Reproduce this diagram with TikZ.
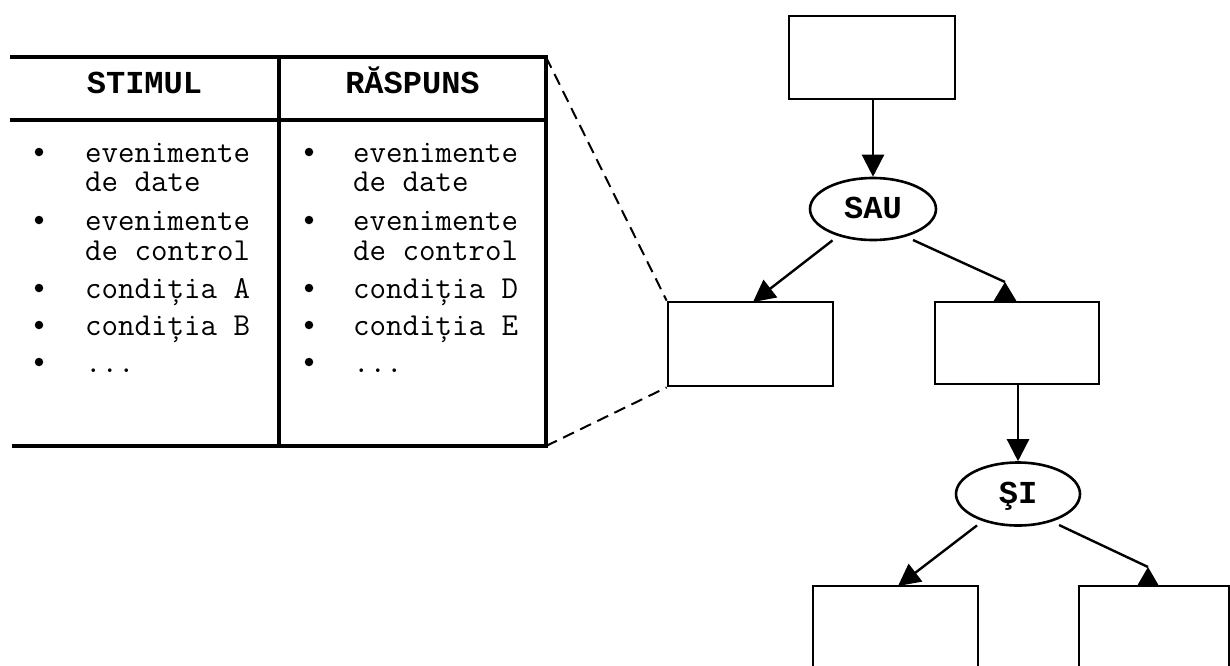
\documentclass[tikz,border=0pt]{standalone}
\usepackage{fontspec}
\newfontfamily\headfont{Liberation Mono}
\usetikzlibrary{shapes.geometric,arrows.meta,calc}
\begin{document}
\begin{tikzpicture}[x=1pt,y=-1pt,
  item/.style={anchor=base west,inner sep=0pt,font=\ttfamily\fontsize{32}{34}\selectfont},
  head/.style={anchor=base,inner sep=0pt,font=\headfont\bfseries\fontsize{32}{34}\selectfont},
  dot/.style={circle,fill,inner sep=0pt,minimum size=8.5pt},
  rule/.style={line width=3.2pt},
  blank/.style={draw,rectangle,line width=2.8pt,inner sep=0pt},
  gate/.style={draw,ellipse,line width=2.6pt,inner sep=0pt,
    text height=18pt,text depth=0pt,
    font=\headfont\bfseries\fontsize{32}{34}\selectfont},
  conn/.style={line width=2.4pt,-{Triangle[length=22pt,width=22pt]}},
  plain/.style={line width=2.4pt},
  lead/.style={line width=2pt,dash pattern=on 12pt off 7pt},
]
\useasboundingbox (0,0) rectangle (1230,665);
\clip (0,0) rectangle (1230,665);

% ---- stimulus / response table ----
\coordinate (tl) at (10,57);
\coordinate (tr) at (546,57);
\coordinate (hl) at (10,120);
\coordinate (hr) at (546,120);
\coordinate (bl) at (12,446);
\coordinate (br) at (546,446);
\coordinate (dt) at (279,57);
\coordinate (db) at (279,446);
\draw[rule] (tl) -- (tr) -- (br) -- (bl);
\draw[rule] (hl) -- (hr);
\draw[rule] (dt) -- (db);

\node[head] (h1) at (144.5,93) {STIMUL};
\node[head] (h2) at (412.5,93) {RĂSPUNS};

% left column
\node[dot] (b11) at (39,152) {};
\node[item] (s1a) at (85,162) {evenimente};
\node[item] (s1b) at (85,191) {de date};
\node[dot] (b12) at (39,220) {};
\node[item] (s2a) at (85,230) {evenimente};
\node[item] (s2b) at (85,260) {de control};
\node[dot] (b13) at (39,288) {};
\node[item] (s3) at (85,298) {condiția A};
\node[dot] (b14) at (39,325) {};
\node[item] (s4) at (85,335) {condiția B};
\node[dot] (b15) at (39,362) {};
\node[item] (s5) at (85,372) {...};

% right column
\node[dot] (b21) at (309,152) {};
\node[item] (r1a) at (353,162) {evenimente};
\node[item] (r1b) at (353,191) {de date};
\node[dot] (b22) at (309,220) {};
\node[item] (r2a) at (353,230) {evenimente};
\node[item] (r2b) at (353,260) {de control};
\node[dot] (b23) at (309,288) {};
\node[item] (r3) at (353,298) {condiția D};
\node[dot] (b24) at (309,325) {};
\node[item] (r4) at (353,335) {condiția E};
\node[dot] (b25) at (309,362) {};
\node[item] (r5) at (353,372) {...};

% ---- tree ----
\node[blank,minimum width=166pt,minimum height=83pt] (top) at (872,57.5) {};
\node[gate,minimum width=126pt,minimum height=62pt] (sau) at (873,209) {SAU};
\node[blank,minimum width=165pt,minimum height=84pt] (lbox) at (750.5,344) {};
\node[blank,minimum width=164pt,minimum height=82pt] (rbox) at (1017,343) {};
\node[gate,minimum width=124pt,minimum height=63pt] (si) at (1018,494) {ŞI};
\node[blank,minimum width=165pt,minimum height=134pt] (blbox) at (895.5,653) {};
\node[blank,minimum width=150pt,minimum height=134pt] (brbox) at (1154,653) {};

% arrow ends on box tops
\coordinate (lt) at (753,302);
\coordinate (rt) at (1005,302);
\coordinate (blt) at (898,586);
\coordinate (brt) at (1148,586);
\coordinate (sau-r) at (913,240);
\coordinate (si-r) at (1059,525);

\draw[conn] (top.south -| sau.north) -- (sau.north);
\draw[conn,shorten <=7pt] (sau) -- (lt);
\draw[plain] (sau-r) -- ($(rt)+(0,-20)$);
\fill (rt) ++(-12,0) -- ++(24,0) -- ++(-12,-20) -- cycle;

\draw[conn] (rbox.south -| si.north) -- (si.north);
\draw[conn,shorten <=7pt] (si) -- (blt);
\draw[plain] (si-r) -- ($(brt)+(0,-19)$);
\fill (brt) ++(-11,0) -- ++(22,0) -- ++(-11,-19) -- cycle;

% zoom-out lines from the table to the detailed box
\draw[lead] (tr) -- (lbox.north west);
\draw[lead] (br) -- (lbox.south west);
\end{tikzpicture}
\end{document}
